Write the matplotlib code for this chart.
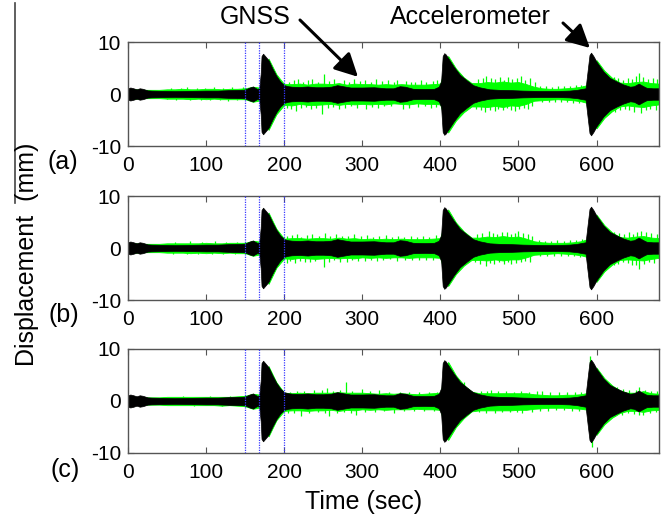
import matplotlib
matplotlib.use('Agg')
import matplotlib.pyplot as plt
from matplotlib.lines import Line2D

plt.rcParams['font.family'] = ['Liberation Sans', 'DejaVu Sans']
plt.rcParams['axes.unicode_minus'] = False

# ---------------- data ----------------
# accelerometer: half-amplitude envelope of the dense oscillation (mm)
accel_t = [0, 3, 7, 11, 15, 19, 25, 30, 45, 60, 80, 100, 115, 130, 145, 150, 155,
           160, 165, 168, 170, 171, 173, 175, 180, 185, 190, 195, 200, 205, 210, 220,
           230, 240, 250, 260, 268, 275, 285, 300, 315, 330, 340, 348, 355, 365,
           380, 392, 398, 401, 403, 405, 407, 410, 417, 425, 434, 442, 450, 463, 475,
           490, 506, 528, 550, 565, 575, 582, 586, 589, 591, 593, 596, 600, 609, 617,
           626, 634, 643, 648, 654, 660, 664, 672, 680]
accel_amp = [1.1, 1.25, 1.1, 0.9, 1.1, 1.0, 0.7, 0.65, 0.6, 0.55, 0.6, 0.65, 0.65,
             0.75, 0.8, 0.85, 1.2, 1.45, 1.0, 1.0, 4.0, 7.3, 7.75, 7.4, 6.5, 4.9, 3.5,
             2.4, 1.7, 1.5, 1.4, 1.35, 1.45, 1.3, 1.3, 1.4, 1.7, 1.5, 1.25, 1.25,
             1.3, 1.1, 1.1, 1.5, 1.4, 1.0, 0.95, 1.0, 1.4, 2.5, 7.3, 7.85, 7.6, 6.9, 5.3,
             3.7, 2.6, 1.7, 1.3, 0.9, 0.8, 0.75, 0.65, 0.58, 0.58, 0.65, 0.8, 1.0,
             1.1, 5.0, 7.5, 7.95, 7.3, 6.2, 4.3, 3.1, 2.4, 1.85, 1.4, 1.5, 2.0, 1.5, 1.2,
             1.1, 1.1]

# GNSS: solid upper / lower envelope every 10 s (mm)
gnss_t = list(range(0, 690, 10))
gnss_a_up = [1.0, 0.9, 0.8, 0.8, 0.8, 0.9, 0.9, 1.0, 0.9, 0.9,
             1.0, 1.0, 0.9, 1.0, 1.0, 1.1, 1.4, 1.2, 6.8, 3.8,
             1.9, 1.9, 2.0, 1.8, 2.0, 2.0, 1.9, 2.1, 1.8, 2.0,
             1.9, 1.9, 1.8, 1.9, 1.8, 1.9, 1.8, 1.8, 1.8, 1.9,
             2.0, 7.3, 4.9, 3.2, 2.1, 2.1, 2.3, 2.2, 2.4, 2.2,
             2.3, 1.9, 1.4, 1.1, 1.0, 1.0, 1.1, 1.2, 1.4, 1.8,
             6.5, 4.5, 3.1, 2.2, 2.1, 2.3, 2.4, 2.1, 2.0]
gnss_a_lo = [-1.0, -0.9, -0.8, -0.8, -0.8, -0.9, -0.9, -0.9, -1.0, -0.9,
             -1.0, -0.9, -1.0, -1.0, -1.0, -1.0, -1.5, -1.2, -6.9, -3.9,
             -2.1, -2.2, -1.9, -2.1, -2.1, -2.0, -1.9, -2.1, -1.9, -2.0,
             -1.9, -2.0, -1.9, -2.0, -1.8, -1.9, -2.0, -1.8, -1.9, -1.9,
             -2.0, -7.4, -5.1, -3.5, -2.4, -2.4, -2.5, -2.3, -2.5, -2.2,
             -2.3, -1.9, -1.3, -1.2, -1.1, -1.0, -1.1, -1.2, -1.4, -1.8,
             -6.6, -4.6, -3.3, -2.4, -2.2, -2.4, -2.5, -2.2, -2.0]
gnss_b_up = [0.9, 0.9, 0.8, 0.8, 0.8, 0.9, 0.9, 0.9, 0.9, 0.9,
             1.0, 0.9, 0.9, 1.0, 1.0, 1.0, 1.4, 1.2, 6.8, 3.7,
             1.8, 1.9, 1.9, 1.8, 1.9, 1.9, 1.8, 2.0, 1.8, 1.9,
             1.7, 1.8, 1.7, 1.8, 1.7, 1.8, 1.7, 1.7, 1.7, 1.8,
             1.9, 7.4, 4.9, 3.2, 2.0, 2.0, 2.2, 2.1, 2.3, 2.1,
             2.2, 1.8, 1.3, 1.1, 1.0, 1.0, 1.0, 1.1, 1.3, 1.8,
             6.4, 4.4, 3.0, 2.1, 2.0, 2.2, 2.3, 2.0, 1.9]
gnss_b_lo = [-0.9, -0.9, -0.8, -0.8, -0.8, -0.9, -0.9, -0.9, -1.0, -0.9,
             -1.0, -0.9, -1.0, -0.9, -1.0, -1.0, -1.5, -1.2, -6.9, -3.8,
             -2.0, -2.1, -1.9, -2.0, -2.1, -2.0, -1.9, -2.0, -1.9, -2.0,
             -1.8, -1.9, -1.8, -1.9, -1.8, -1.8, -1.9, -1.8, -1.8, -1.8,
             -1.9, -7.3, -5.0, -3.4, -2.3, -2.3, -2.4, -2.2, -2.4, -2.2,
             -2.2, -1.8, -1.3, -1.2, -1.1, -1.0, -1.1, -1.2, -1.4, -1.8,
             -6.5, -4.5, -3.2, -2.3, -2.2, -2.3, -2.4, -2.1, -1.9]
gnss_c_up = [0.8, 0.8, 0.7, 0.7, 0.7, 0.8, 0.8, 0.8, 0.8, 0.8,
             0.8, 0.8, 0.8, 0.8, 0.9, 1.0, 1.4, 1.2, 6.7, 3.6,
             1.6, 1.5, 1.6, 1.5, 1.6, 1.6, 1.6, 1.7, 1.6, 1.6,
             1.6, 1.5, 1.4, 1.5, 1.4, 1.5, 1.4, 1.3, 1.4, 1.5,
             1.6, 7.5, 4.9, 3.1, 1.8, 1.5, 1.5, 1.5, 1.5, 1.5,
             1.5, 1.5, 1.3, 1.2, 1.1, 1.1, 1.2, 1.2, 1.3, 1.6,
             6.4, 4.4, 3.0, 2.0, 1.6, 1.6, 1.9, 1.5, 1.4]
gnss_c_lo = [-0.8, -0.8, -0.7, -0.7, -0.7, -0.8, -0.8, -0.8, -0.8, -0.8,
             -0.8, -0.8, -0.9, -0.8, -0.9, -1.0, -1.5, -1.2, -6.8, -3.7,
             -1.9, -1.8, -1.8, -1.9, -1.8, -1.8, -1.7, -1.9, -1.7, -1.8,
             -1.6, -1.7, -1.6, -1.7, -1.6, -1.6, -1.6, -1.5, -1.6, -1.6,
             -1.7, -7.5, -5.0, -3.3, -2.0, -1.8, -1.8, -1.8, -1.8, -1.8,
             -1.7, -1.7, -1.5, -1.4, -1.3, -1.3, -1.3, -1.4, -1.5, -1.7,
             -6.5, -4.5, -3.2, -2.3, -1.9, -1.9, -2.1, -1.8, -1.7]

# GNSS spikes poking out of the solid band (time s, displacement mm)
spike_a_t = [55, 68, 75, 88, 98, 110, 122, 133, 147,
             206, 212, 218, 224, 230, 236, 243, 251, 258, 264, 276, 283, 290, 297,
             304, 311, 318, 325, 333, 340, 345, 356, 362, 368, 375, 382, 390, 396,
             448, 454, 459, 465, 470, 476, 481, 487, 492, 498, 503, 509, 515, 521,
             527, 535, 543, 551, 558, 566, 574, 580,
             622, 628, 634, 640, 646, 651, 655, 660, 666, 672, 678,
             50, 62, 80, 94, 105, 118, 128, 140,
             203, 209, 215, 221, 228, 234, 241, 249, 256, 263, 270, 278, 286, 293,
             305, 312, 320, 328, 337, 352, 360, 371, 380, 388, 394,
             446, 452, 457, 463, 470, 474, 480, 485, 490, 495, 501, 507, 512, 518,
             530, 539, 547, 555, 562, 570, 578,
             624, 630, 636, 642, 648, 657, 663, 669, 676]
spike_a_v = [1.1, 1.2, 1.4, 1.1, 1.2, 1.4, 1.2, 1.3, 1.3,
             2.4, 2.6, 2.9, 2.3, 2.7, 2.9, 2.4, 3.8, 2.5, 2.8, 2.6, 2.4, 2.9, 2.5,
             2.7, 2.4, 2.8, 2.5, 2.6, 2.3, 2.7, 2.5, 2.4, 2.3, 2.6, 2.4, 2.5, 2.7,
             2.8, 3.0, 3.5, 3.1, 2.9, 3.2, 2.7, 3.3, 2.8, 3.0, 3.4, 2.7, 3.0, 2.4,
             1.6, 1.5, 1.4, 1.5, 1.6, 1.5, 1.7, 1.8,
             3.3, 3.0, 2.7, 3.1, 2.8, 3.4, 4.0, 3.2, 2.9, 3.1, 2.8,
             -1.0, -1.1, -1.2, -1.1, -1.2, -1.2, -1.3, -1.2,
             -2.6, -2.9, -3.2, -2.7, -2.5, -2.8, -2.6, -3.8, -2.7, -2.5, -2.9, -2.6, -2.4, -2.7,
             -2.8, -2.5, -2.6, -2.4, -2.3, -2.8, -2.6, -2.5, -2.4, -2.6, -2.5,
             -2.9, -3.1, -3.4, -3.0, -3.3, -2.8, -3.1, -2.7, -3.0, -3.2, -2.8, -2.6, -2.9, -2.3,
             -1.6, -1.5, -1.6, -1.5, -1.6, -1.7, -1.8,
             -3.5, -3.1, -2.8, -3.0, -3.4, -3.6, -3.1, -2.8, -3.0]
spike_b_t = [60, 80, 95, 112, 125, 140,
             204, 210, 216, 222, 229, 236, 244, 252, 259, 266, 274, 282, 290, 298,
             306, 314, 322, 330, 338, 346, 354, 362, 370, 378, 386, 394,
             447, 453, 462, 467, 473, 479, 485, 491, 496, 500, 506, 512, 518,
             526, 534, 542, 550, 558, 566, 574, 581,
             623, 629, 635, 641, 647, 652, 657, 663, 670, 677,
             58, 76, 90, 108, 122, 137,
             203, 208, 214, 220, 227, 233, 240, 251, 257, 264, 271, 280, 287, 295,
             303, 311, 319, 327, 336, 345, 355, 364, 373, 382, 391,
             445, 451, 459, 464, 469, 475, 481, 487, 490, 497, 503, 509, 515,
             528, 537, 546, 554, 563, 571, 579,
             622, 628, 634, 640, 646, 650, 655, 661, 667, 674]
spike_b_v = [1.2, 1.4, 1.1, 1.3, 1.2, 1.2,
             2.3, 2.5, 2.6, 2.2, 2.5, 2.7, 2.3, 2.8, 2.4, 2.6, 2.4, 2.3, 2.6, 2.3,
             2.5, 2.2, 2.4, 2.5, 2.2, 2.4, 2.1, 2.3, 2.2, 2.4, 2.2, 2.5,
             2.7, 2.9, 3.3, 2.9, 2.7, 3.0, 3.1, 2.7, 2.9, 3.2, 2.8, 2.6, 2.4,
             1.5, 1.4, 1.4, 1.5, 1.4, 1.5, 1.6, 1.8,
             3.0, 2.8, 2.6, 3.0, 2.7, 3.1, 3.3, 3.0, 2.9, 2.7,
             -1.1, -1.2, -1.1, -1.2, -1.2, -1.2,
             -2.8, -2.5, -2.9, -2.5, -2.6, -2.7, -2.5, -3.7, -2.6, -2.4, -2.6, -2.7, -2.3, -2.5,
             -2.5, -2.4, -2.5, -2.3, -2.2, -2.5, -2.4, -2.3, -2.4, -2.3, -2.4,
             -2.7, -3.0, -3.4, -2.9, -3.1, -2.7, -3.0, -2.6, -3.1, -2.8, -2.7, -2.5, -2.6,
             -1.6, -1.5, -1.5, -1.6, -1.5, -1.6, -1.8,
             -3.3, -3.0, -2.7, -2.9, -3.2, -3.3, -4.0, -3.0, -2.7, -2.8]
spike_c_t = [70, 105, 130,
             208, 216, 226, 238, 248, 255, 263, 271, 279, 287, 300, 310, 322, 334,
             348, 360, 373, 386, 396, 430,
             452, 460, 465, 474, 484, 494, 503, 514, 524, 530, 540, 552, 562, 572, 580,
             592, 626, 634, 642, 650, 655, 662, 670, 678,
             85, 120,
             205, 213, 222, 232, 243, 252, 258, 268, 276, 285, 292, 303, 316, 328, 340,
             354, 366, 379, 392,
             450, 458, 470, 479, 489, 498, 505, 518, 528, 538, 548, 558, 568, 578,
             594, 624, 632, 640, 648, 655, 660, 668, 676]
spike_c_v = [0.9, 0.9, 1.0,
             1.8, 2.0, 1.9, 2.1, 2.2, 2.5, 2.0, 2.2, 3.6, 2.0, 2.4, 1.9, 2.2, 1.8,
             1.8, 1.7, 1.7, 1.8, 1.8, 3.6,
             2.0, 1.9, 2.1, 1.9, 2.0, 1.8, 1.9, 1.8, 1.9, 2.0, 1.8, 1.7, 1.8, 1.7, 1.8,
             8.6, 2.6, 2.3, 2.2, 2.1, 2.6, 2.2, 2.0, 1.9,
             -0.9, -1.0,
             -2.4, -2.3, -2.8, -2.3, -2.2, -2.4, -2.8, -2.3, -2.2, -2.4, -2.7, -2.2, -2.1, -2.0, -2.3,
             -2.0, -1.9, -1.9, -2.0,
             -2.2, -2.3, -2.4, -2.2, -2.1, -2.2, -2.3, -2.1, -2.0, -1.9, -1.8, -1.8, -1.9, -2.0,
             -8.8, -2.8, -2.6, -2.4, -2.5, -2.6, -2.6, -2.3, -2.2]

marker_times = [150, 168, 200]
panel_labels = ['(a)', '(b)', '(c)']
x_ticks = [0, 100, 200, 300, 400, 500, 600]
y_ticks = [-10, 0, 10]

panels = [
    (gnss_a_up, gnss_a_lo, spike_a_t, spike_a_v),
    (gnss_b_up, gnss_b_lo, spike_b_t, spike_b_v),
    (gnss_c_up, gnss_c_lo, spike_c_t, spike_c_v),
]

# ---------------- figure ----------------
W, H = 670, 524
fig = plt.figure(figsize=(W / 100, H / 100), dpi=100)

def fx(px):
    return px / W

def fy(py):
    return 1 - py / H

axes_rows = [(42, 146), (196, 300), (349, 453)]
label_pos = [(63, 162), (64, 315), (65, 470)]
frame_col = '#555555'
green = '#00ff00'

accel_lo = [-a for a in accel_amp]
axes = []
for i, ((top, bot), (up, lo, st, sv)) in enumerate(zip(axes_rows, panels)):
    ax = fig.add_axes([fx(128), fy(bot), fx(659) - fx(128), (bot - top) / H])
    axes.append(ax)
    ax.fill_between(gnss_t, lo, up, color=green, lw=0.6, edgecolor=green, zorder=1)
    ax.vlines(st, 0, sv, color=green, lw=0.9, zorder=1.5)
    ax.fill_between(accel_t, accel_lo, accel_amp, color='black', lw=0.5,
                    edgecolor='black', zorder=2)
    for mt in marker_times:
        ax.axvline(mt, color='#3a3aff', lw=0.9, ls=(0, (1, 1)), zorder=3)
    ax.set_xlim(0, 680)
    ax.set_ylim(-10, 10)
    ax.set_xticks(x_ticks)
    ax.set_yticks(y_ticks)
    ax.tick_params(direction='in', top=True, right=True, length=4, width=0.8,
                   color=frame_col, labelsize=15)
    ax.tick_params(axis='x', pad=7)
    ax.tick_params(axis='y', pad=5)
    for sp in ax.spines.values():
        sp.set_color(frame_col)
        sp.set_linewidth(1.0)
    lx, ly = label_pos[i]
    fig.text(fx(lx), fy(ly), panel_labels[i], ha='center', va='center', fontsize=18)

# annotations
axA = axes[0]
arrow_kw = dict(arrowstyle='-|>,head_length=0.7,head_width=0.36', lw=2.2,
                color='black', shrinkA=0, shrinkB=0, mutation_scale=20)
axA.annotate('', xy=(294.5, 3.3), xycoords='data',
             xytext=(fx(300), fy(20)), textcoords='figure fraction',
             arrowprops=arrow_kw, annotation_clip=False)
axA.annotate('', xy=(591.5, 8.85), xycoords='data',
             xytext=(fx(563), fy(23)), textcoords='figure fraction',
             arrowprops=arrow_kw, annotation_clip=False)
fig.text(fx(255), fy(17), 'GNSS', ha='center', va='center', fontsize=18)
fig.text(fx(470), fy(17), 'Accelerometer', ha='center', va='center', fontsize=18)

fig.text(fx(27), fy(254), 'Displacement  (mm)', rotation=90, ha='center',
         va='center', fontsize=18)
fig.text(fx(364), fy(502), 'Time (sec)', ha='center', va='center', fontsize=18)

fig.add_artist(Line2D([fx(15), fx(15)], [fy(3), fy(203)], color='#444444', lw=1.2))

fig.savefig('out.png', dpi=100)
